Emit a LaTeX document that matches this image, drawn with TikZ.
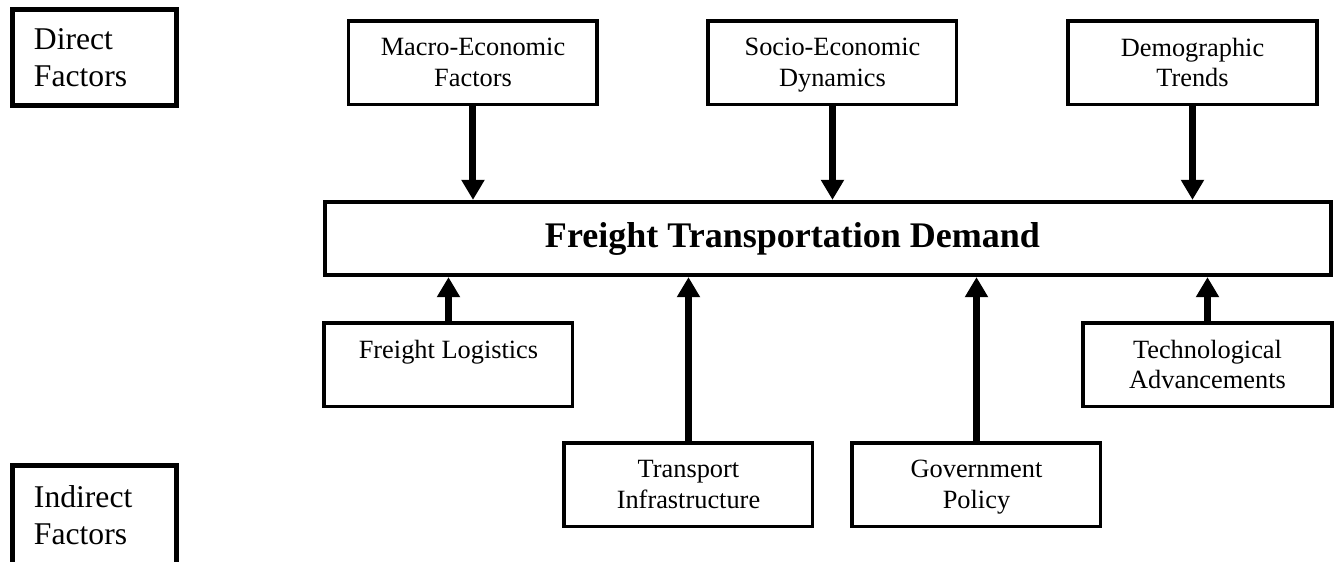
\documentclass[tikz,border=0pt]{standalone}
\usepackage{fontspec}
\setmainfont{Liberation Serif}
\usepackage{tikz}
\usetikzlibrary{arrows.meta,shapes,positioning}
\tikzstyle{arrow} = [line width=0.14cm,->,>={Triangle[width=0.44cm,length=0.4cm]}]
\tikzstyle{factor} = [rectangle, draw, line width=0.07cm, minimum width=4.97cm, minimum height=1.67cm, align=center, text depth=0pt, font=\fontsize{15}{17.4}\selectfont]
\tikzstyle{mainbox} = [rectangle, draw, line width=0.075cm, minimum width=20.13cm, minimum height=1.47cm, font=\fontsize{20.5}{24}\selectfont\bfseries]
\tikzstyle{levelbox} = [rectangle, draw, line width=0.1cm, minimum height=1.92cm, text width=2.42cm, inner xsep=0.43cm, align=left, font=\fontsize{18}{21}\selectfont]

\begin{document}
\begin{tikzpicture}[node distance=3.52cm, auto]
\useasboundingbox (-16.56,4.77) rectangle (10.16,-6.45);
% Nodes
\node (demand) [mainbox] {Freight Transportation Demand\hspace*{1.42cm}};
\node (socio) [factor, above of=demand, xshift=0.09cm] {Socio-Economic\\Dynamics};
\node (macro) [factor, left of=socio, node distance=7.19cm] {Macro-Economic\\Factors};
\node (demo) [factor, right of=socio, node distance=7.2cm] {Demographic\\Trends};
\node (logistics) [factor, below of=demand, node distance=2.52cm, xshift=-7.59cm] {Freight Logistics\\~};
\node (tech) [factor, below of=demand, node distance=2.52cm, xshift=7.59cm] {Technological\\Advancements};
\node (infra) [factor, below of=demand, node distance=4.92cm, xshift=-2.79cm] {Transport\\Infrastructure};
\node (policy) [factor, below of=demand, node distance=4.92cm, xshift=2.97cm] {Government\\Policy};
\node (direct) [levelbox, left of=macro, node distance=7.57cm, yshift=0.1cm] {Direct\\Factors};
\node (indirect) [levelbox, below of=direct, node distance=9.16cm, minimum height=2cm] {Indirect\\Factors};

% Arrows - direct factors feed down, indirect ones feed up
\draw[arrow] (macro) -- (macro |- demand.north);
\draw[arrow] (socio) -- (socio |- demand.north);
\draw[arrow] (demo) -- (demo |- demand.north);
\draw[arrow] (logistics) -- (logistics |- demand.south);
\draw[arrow] (infra) -- (infra |- demand.south);
\draw[arrow] (policy) -- (policy |- demand.south);
\draw[arrow] (tech) -- (tech |- demand.south);
\end{tikzpicture}
\end{document}
